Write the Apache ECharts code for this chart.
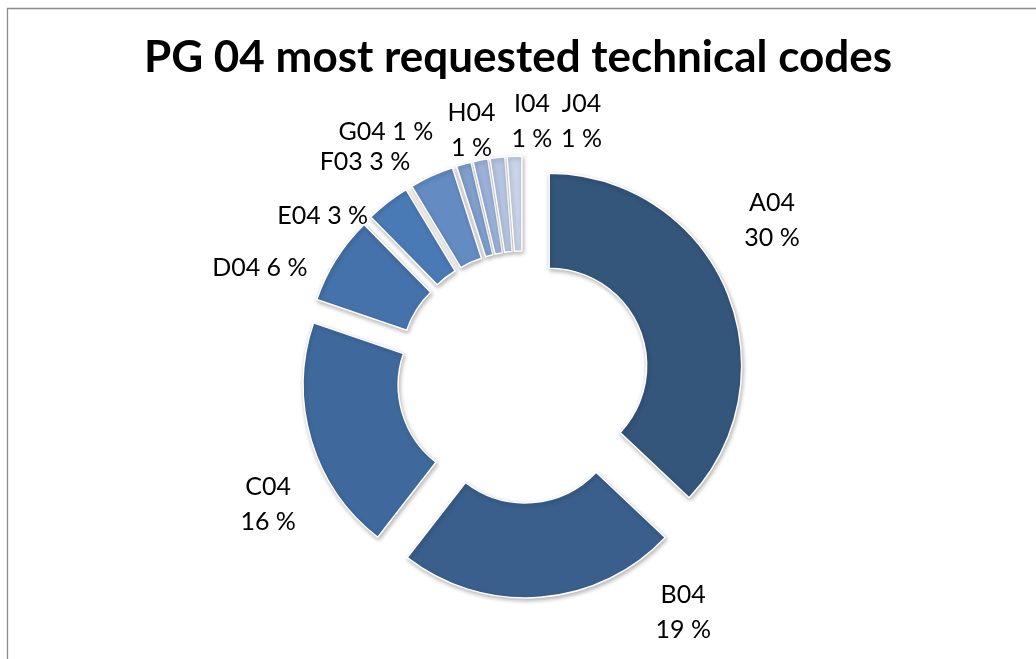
<!DOCTYPE html>
<html>
<head>
<meta charset="utf-8">
<title>PG 04 most requested technical codes</title>
<script src="https://cdn.jsdelivr.net/npm/echarts@6/dist/echarts.min.js"></script>
<style>
  html, body { margin: 0; padding: 0; background: #ffffff; }
  #chart { width: 1036px; height: 659px; }
</style>
</head>
<body>
<div id="chart"></div>
<script>
// Technical codes and their share of requests (percent)
const codes = ['A04', 'B04', 'C04', 'D04', 'E04', 'F03', 'G04', 'H04', 'I04', 'J04'];
const shares = [30, 19, 16, 6, 3, 3, 1, 1, 1, 1];

// Slice fills, dark to light
const sliceColors = ['#34567b', '#3a5f8c', '#3f699d', '#4572aa', '#4a7ab6',
                     '#648cc3', '#809fcd', '#9bb1d8', '#b5c4e1', '#c9d4e8'];

// Label layout: text split onto two lines or kept on one
const labelTwoLines = [true, true, true, false, false, false, false, true, true, true];
// Label anchor around the ring: [angle clockwise from top in degrees, distance from centre]
const labelSpots = [[57.9, 294], [145.8, 285], [243.4, 285], [292.6, 285], [308.8, 257],
                    [323.7, 267], [330.8, 281], [348.2, 252], [2.0, 256], [12.9, 262]];

const pieCenter = [523, 377];
const ringRadius = [97.5, 192.5];

const chart = echarts.init(document.getElementById('chart'), null, { renderer: 'canvas' });

const baseData = codes.map(function (c, i) {
  return { name: c, value: shares[i] };
});

const option = {
  animation: false,
  backgroundColor: '#ffffff',
  title: {
    text: 'PG 04 most requested technical codes',
    left: 'center',
    top: 31,
    textStyle: {
      fontFamily: 'Lato',
      fontWeight: 'bold',
      fontSize: 44,
      color: '#000000'
    }
  },
  graphic: [{
    type: 'polyline',
    shape: { points: [[7.5, 659], [7.5, 8.5], [1036, 8.5]] },
    style: { stroke: '#8c8c8c', lineWidth: 1.3, fill: null },
    silent: true
  }],
  series: [{
    // exploded doughnut ring
    type: 'pie',
    center: pieCenter,
    radius: ringRadius,
    startAngle: 90,
    clockwise: true,
    selectedMode: 'multiple',
    selectedOffset: 28.5,
    silent: true,
    itemStyle: {
      borderColor: '#ffffff',
      borderWidth: 1.5,
      shadowBlur: 4,
      shadowOffsetX: 1,
      shadowOffsetY: 2,
      shadowColor: 'rgba(0,0,0,0.28)'
    },
    label: { show: false },
    labelLine: { show: false },
    data: baseData.map(function (d, i) {
      return {
        name: d.name,
        value: d.value,
        selected: true,
        itemStyle: { color: sliceColors[i] }
      };
    })
  }, {
    // data labels, laid out around the ring
    type: 'pie',
    center: pieCenter,
    radius: ringRadius,
    startAngle: 90,
    clockwise: true,
    silent: true,
    avoidLabelOverlap: false,
    itemStyle: { color: 'rgba(0,0,0,0)', borderWidth: 0 },
    label: {
      show: true,
      position: 'outside',
      fontFamily: 'Lato',
      fontSize: 25,
      lineHeight: 35,
      color: '#000000',
      formatter: function (p) {
        return p.name + (labelTwoLines[p.dataIndex] ? '\n' : ' ') + p.value + ' %';
      }
    },
    labelLine: { show: false },
    labelLayout: function (p) {
      const spot = labelSpots[p.dataIndex];
      const a = spot[0] * Math.PI / 180;
      return {
        x: pieCenter[0] + spot[1] * Math.sin(a),
        y: pieCenter[1] - spot[1] * Math.cos(a),
        align: 'center',
        verticalAlign: 'middle'
      };
    },
    data: baseData
  }]
};

chart.setOption(option);
</script>
</body>
</html>
